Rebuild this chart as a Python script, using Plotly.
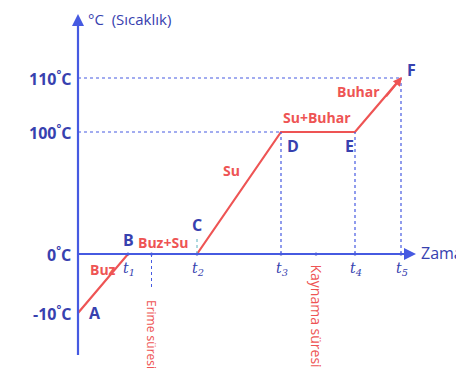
import numpy as np
import plotly.graph_objects as go

# heating curve of water (schematic)
point_names = ["A", "B", "C", "D", "E", "F"]
times = [0, 5, 11.9, 20.3, 27.7, 32.3]
temps = [-10, 0, 0, 100, 100, 110]
time_labels = ["t<sub>1</sub>", "t<sub>2</sub>", "t<sub>3</sub>", "t<sub>4</sub>", "t<sub>5</sub>"]
temp_ticks = [110, 100, 0, -10]
phases = ["Buz", "Buz+Su", "Su", "Su+Buhar", "Buhar"]

# schematic (non linear) temperature scale, like in the textbook drawing
levels = [-10, 0, 100, 110]
heights = [-59, 0, 122, 176]


def ty(t):
    return float(np.interp(t, levels, heights))


BLUE = "rgb(70,90,225)"
DARK = "rgb(55,65,175)"
RED = "rgb(238,84,84)"
FONT = "Open Sans"

ys = [ty(t) for t in temps]

fig = go.Figure()

# guide lines
dash = dict(color=BLUE, width=1.2, dash="dot")
fig.add_shape(type="line", x0=0, x1=times[5], y0=ty(110), y1=ty(110), line=dash)
fig.add_shape(type="line", x0=0, x1=times[3], y0=ty(100), y1=ty(100), line=dash)
for i in (3, 4, 5):
    fig.add_shape(type="line", x0=times[i], x1=times[i], y0=0, y1=ys[i], line=dash)
fig.add_shape(type="line", x0=times[2], x1=times[2], y0=0, y1=17,
              line=dict(color="rgb(120,190,200)", width=1.2, dash="dot"))
erime_x = (times[1] + times[2]) / 2 - 1.1
kaynama_x = (times[3] + times[4]) / 2 - 0.2
fig.add_shape(type="line", x0=erime_x, x1=erime_x, y0=0, y1=-36,
              line=dict(color=BLUE, width=1, dash="dot"))

# axes
fig.add_shape(type="line", x0=0, x1=0, y0=-101, y1=232, line=dict(color=BLUE, width=2.2))
fig.add_shape(type="line", x0=0, x1=33.2, y0=0, y1=0, line=dict(color=BLUE, width=2.2))

# heating curve
fig.add_trace(go.Scatter(x=times, y=ys, mode="lines",
                         line=dict(color=RED, width=2.2), hoverinfo="skip"))
fig.add_trace(go.Scatter(x=times[1:] + [erime_x, kaynama_x], y=[0] * 7, mode="markers",
                         marker=dict(color=DARK, size=3), hoverinfo="skip"))

anns = []
# axis arrows
anns.append(dict(x=0, y=240, ax=0, ay=220, xref="x", yref="y", axref="x", ayref="y",
                 showarrow=True, arrowhead=2, arrowsize=1.2, arrowwidth=2, arrowcolor=BLUE, text=""))
anns.append(dict(x=33.8, y=0, ax=32.5, ay=0, xref="x", yref="y", axref="x", ayref="y",
                 showarrow=True, arrowhead=2, arrowsize=1.2, arrowwidth=2, arrowcolor=BLUE, text=""))
# arrow at F
anns.append(dict(x=times[5] + 0.1, y=ys[5] + 1, ax=times[4] + 3, ay=ys[4] + 34, xref="x", yref="y",
                 axref="x", ayref="y", showarrow=True, arrowhead=2, arrowsize=1, arrowwidth=1.8,
                 arrowcolor=RED, text=""))

anns.append(dict(x=0.8, y=235, text="°C  (Sıcaklık)", xanchor="left", yanchor="middle",
                 font=dict(color=DARK, size=15, family=FONT)))
anns.append(dict(x=34.1, y=1, text="Zaman", xanchor="left", yanchor="middle",
                 font=dict(color=DARK, size=16, family=FONT)))

for t in temp_ticks:
    anns.append(dict(x=-0.5, y=ty(t), text=f"{t}<sup>°</sup>C", xanchor="right", yanchor="middle",
                     font=dict(color=DARK, size=16, family=FONT, weight="bold")))

for tx, lab in zip(times[1:], time_labels):
    anns.append(dict(x=tx + 0.1, y=-15, text=lab, xanchor="center", yanchor="middle",
                     font=dict(color=DARK, size=14, family="DejaVu Serif", style="italic")))

point_offsets = [(1.7, 0), (0, 14), (0, 29), (1.2, -14), (-0.6, -14), (1.0, 8)]
for name, tx, yv, (dx, dy) in zip(point_names, times, ys, point_offsets):
    anns.append(dict(x=tx + dx, y=yv + dy, text=name, xanchor="center", yanchor="middle",
                     font=dict(color=DARK, size=16, family=FONT, weight="bold")))

phase_pos = [(2.5, -15), (8.5, 12), (15.3, 84), (23.9, 137), (28.0, 163)]
for lab, (px, py) in zip(phases, phase_pos):
    anns.append(dict(x=px, y=py, text=lab, xanchor="center", yanchor="middle",
                     font=dict(color=RED, size=14, family=FONT, weight="bold")))

anns.append(dict(x=erime_x, y=-44, text="Erime süresi", textangle=90, xanchor="center", yanchor="top",
                 font=dict(color=RED, size=12, family=FONT)))
anns.append(dict(x=kaynama_x, y=-8, text="Kaynama süresi", textangle=90, xanchor="center", yanchor="top",
                 font=dict(color=RED, size=14, family=FONT)))

for a in anns:
    a.setdefault("showarrow", False)
    a.setdefault("xref", "x")
    a.setdefault("yref", "y")
fig.update_layout(annotations=anns)

# page body has an 8px margin, so the figure is 8px smaller than the window
fig.update_layout(
    width=448, height=369,
    margin=dict(l=0, r=0, t=0, b=0),
    paper_bgcolor="white", plot_bgcolor="white",
    showlegend=False,
    xaxis=dict(range=[-7.0, 37.8], visible=False, fixedrange=True),
    yaxis=dict(range=[-123, 246], visible=False, fixedrange=True),
)

fig.write_html("out.html")
